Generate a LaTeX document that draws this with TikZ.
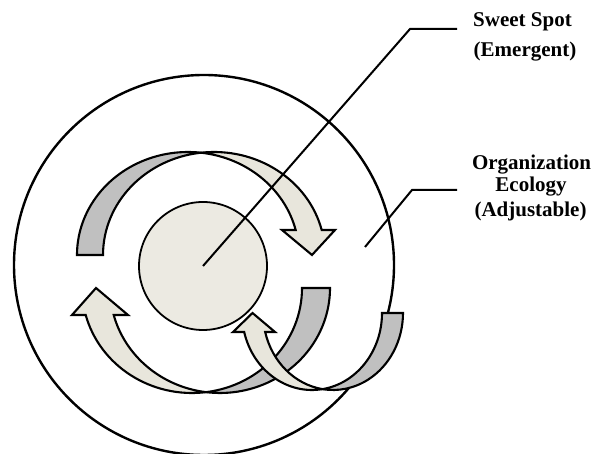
\documentclass[tikz,border=0pt]{standalone}
\usepackage{fontspec}
\setmainfont{Liberation Serif}
\definecolor{bandgray}{HTML}{C0C0C0}
\definecolor{bandbeige}{HTML}{E8E6DC}
\definecolor{corefill}{HTML}{ECEAE2}
\begin{document}
\begin{tikzpicture}[x=1pt,y=1pt,
  ringline/.style={circle,draw=black,line width=2.4pt,inner sep=0pt},
  backband/.style={draw=black,line width=2.1pt,fill=bandgray,line join=miter},
  frontband/.style={draw=black,line width=2.1pt,fill=bandbeige,line join=miter},
  leader/.style={draw=black,line width=2pt},
  lbl/.style={font=\fontsize{21}{21}\selectfont\bfseries,anchor=base,inner sep=0pt}]
\useasboundingbox (0,0) rectangle (596,454);
% outer ring (organization ecology)
\node[ringline,minimum size=380pt] (outer) at (204,189) {};
% inner core (sweet spot)
\node[ringline,fill=corefill,minimum size=128pt,line width=1.8pt] (core) at (203,188) {};
% arrow 1 (top, curved down)
\path[backband] (77,199) arc[start angle=180,end angle=83.27,x radius=111,y radius=103]
  arc[start angle=96.73,end angle=180,x radius=111,y radius=103] -- cycle;
\path[frontband] (295.68,224) arc[start angle=14.05,end angle=83.27,x radius=111,y radius=103]
  arc[start angle=96.73,end angle=14.05,x radius=111,y radius=103]
  -- (335,224) -- (312,199) -- (282,224) -- cycle;
% arrow 2 (bottom left, curved up)
\path[backband] (330,166) arc[start angle=0,end angle=-97.31,x radius=110,y radius=105]
  arc[start angle=-82.69,end angle=0,x radius=110,y radius=105] -- cycle;
\path[frontband] (113.7,139) arc[start angle=-165.1,end angle=-97.31,x radius=110,y radius=105]
  arc[start angle=-82.69,end angle=-165.1,x radius=110,y radius=105]
  -- (72,139) -- (96,166) -- (128,139) -- cycle;
% arrow 3 (bottom right, curved up)
\path[backband] (403,141) arc[start angle=0,end angle=-98.63,x radius=70,y radius=77]
  arc[start angle=-81.37,end angle=0,x radius=70,y radius=77] -- cycle;
\path[frontband] (265.17,122) arc[start angle=-165.71,end angle=-98.63,x radius=70,y radius=77]
  arc[start angle=-81.37,end angle=-165.71,x radius=70,y radius=77]
  -- (233,122) -- (252.5,141) -- (275,122) -- cycle;
% labels
\node[lbl] (sweet) at (522.5,427) {Sweet Spot};
\node[lbl] (emerg) at (525,397) {(Emergent)};
\node[lbl] (org) at (531.5,284) {Organization};
\node[lbl] (eco) at (531,262) {Ecology};
\node[lbl] (adj) at (530.5,237) {(Adjustable)};
% leader lines
\coordinate (k1) at (410,425);
\coordinate (e1) at (457,425);
\coordinate (s2) at (365,207);
\coordinate (k2) at (412,264);
\coordinate (e2) at (457,264);
\draw[leader] (core.center) -- (k1) -- (e1);
\draw[leader] (s2) -- (k2) -- (e2);
\end{tikzpicture}
\end{document}
